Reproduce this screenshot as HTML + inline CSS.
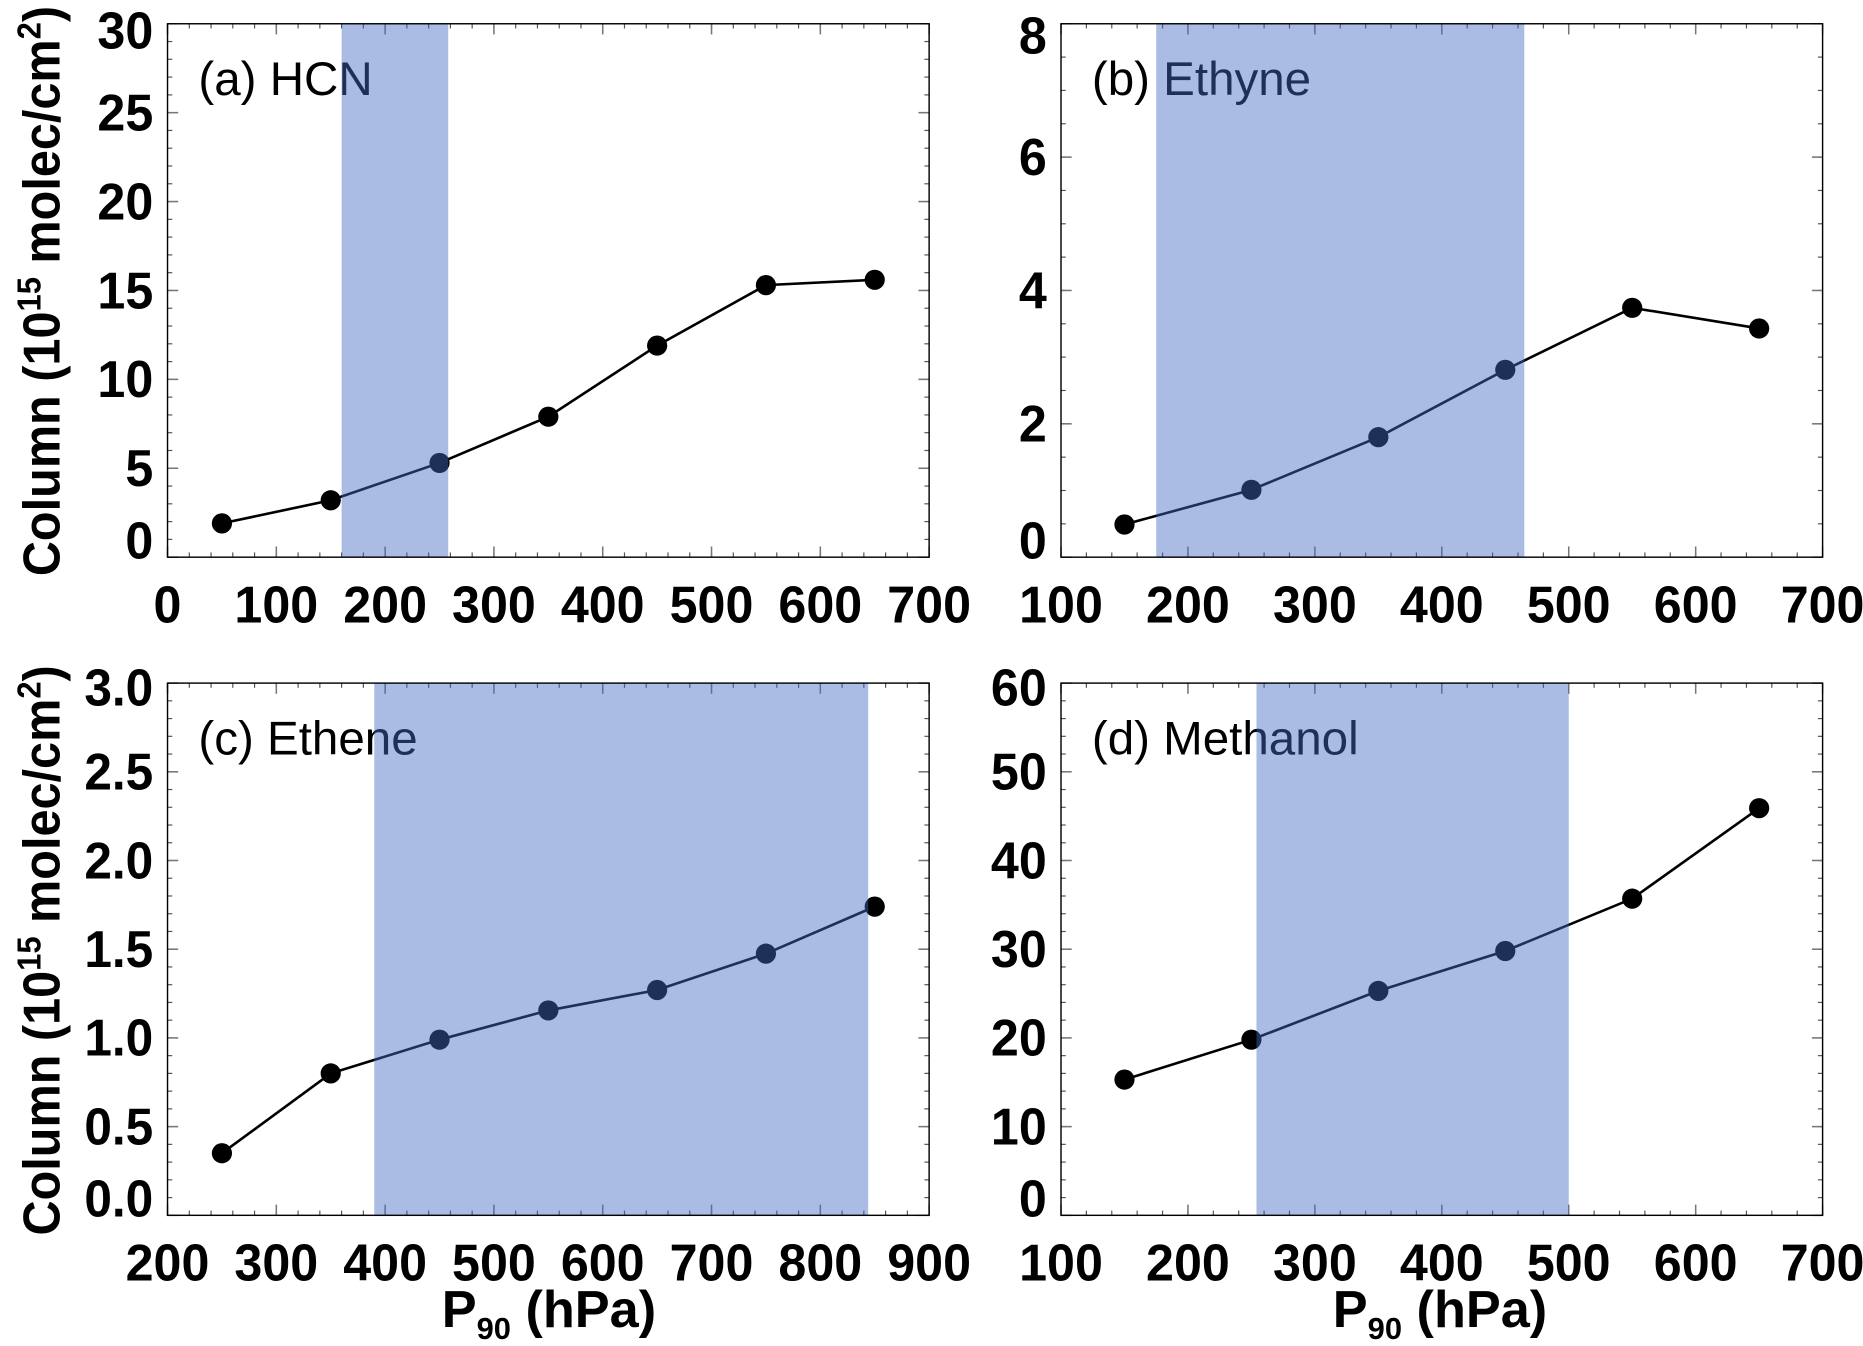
<!DOCTYPE html>
<html><head><meta charset="utf-8"><style>
html,body{margin:0;padding:0;background:#fff;}
svg{display:block;}
text{font-family:"Liberation Sans",sans-serif;}
.num{font-weight:bold;font-size:44px;fill:#000;}
.lab{font-family:"Liberation Sans",sans-serif;font-size:40px;}
</style></head><body>
<svg id="fig" width="1863" height="1346" viewBox="0 0 1568 1133" preserveAspectRatio="none" xmlns="http://www.w3.org/2000/svg">
<text transform="translate(50,245) rotate(-90)" text-anchor="middle" font-weight="bold" font-size="44" textLength="480" lengthAdjust="spacingAndGlyphs">Column (10<tspan font-size="28" dy="-16">15</tspan><tspan dy="16"> molec/cm</tspan><tspan font-size="28" dy="-16">2</tspan><tspan dy="16">)</tspan></text>
<text transform="translate(50,800) rotate(-90)" text-anchor="middle" font-weight="bold" font-size="44" textLength="480" lengthAdjust="spacingAndGlyphs">Column (10<tspan font-size="28" dy="-16">15</tspan><tspan dy="16"> molec/cm</tspan><tspan font-size="28" dy="-16">2</tspan><tspan dy="16">)</tspan></text>
<text x="462" y="1117" text-anchor="middle" font-weight="bold" font-size="44">P<tspan font-size="26" dy="10">90</tspan><tspan dy="-10"> (hPa)</tspan></text>
<text x="1212" y="1117" text-anchor="middle" font-weight="bold" font-size="44">P<tspan font-size="26" dy="10">90</tspan><tspan dy="-10"> (hPa)</tspan></text>
</svg>
<script>
// Panel (a) HCN
const aX = [50,150,250,350,450,550,650];
const aY = [1.9,3.2,5.3,7.9,11.9,15.3,15.6];
const aBand = [160,258];
const aXTicks = [0,100,200,300,400,500,600,700];
const aYTicks = [0,5,10,15,20,25,30];
// Panel (b) Ethyne
const bX = [150,250,350,450,550,650];
const bY = [0.49,1.01,1.80,2.81,3.74,3.43];
const bBand = [175,465];
const bXTicks = [100,200,300,400,500,600,700];
const bYTicks = [0,2,4,6,8];
// Panel (c) Ethene
const cX = [250,350,450,550,650,750,850];
const cY = [0.35,0.80,0.99,1.155,1.27,1.475,1.74];
const cBand = [390,844];
const cXTicks = [200,300,400,500,600,700,800,900];
const cYTicks = [0.0,0.5,1.0,1.5,2.0,2.5,3.0];
// Panel (d) Methanol
const dX = [150,250,350,450,550,650];
const dY = [15.3,19.8,25.3,29.8,35.7,45.9];
const dBand = [254,500];
const dXTicks = [100,200,300,400,500,600,700];
const dYTicks = [0,10,20,30,40,50,60];

const NS='http://www.w3.org/2000/svg';
const svg=document.getElementById('fig');
function mk(tag,attrs,parent){const e=document.createElementNS(NS,tag);for(const k in attrs)e.setAttribute(k,attrs[k]);(parent||svg).appendChild(e);return e;}

function panel(cfg){
  const {id,L,R,T,B,xmin,xmax,ymin,ymax,xs,ys,band,xt,yt,xminor,yminor,dec,label1,label2,yLabShift}=cfg;
  const g=mk('g',{});
  
  
  const sx=v=>L+(v-xmin)/(xmax-xmin)*(R-L);
  const sy=v=>B-(v-ymin)/(ymax-ymin)*(B-T);
  mk('rect',{x:L,y:T,width:R-L,height:B-T,fill:'#fff'},g);
  // minor ticks
  for(let v=xmin;v<=xmax+1e-9;v+=xminor){const x=sx(v);
    const t1=mk('line',{x1:x,x2:x,y1:B,y2:B-4,stroke:'#555','stroke-width':1},g);
    const t2=mk('line',{x1:x,x2:x,y1:T,y2:T+4,stroke:'#555','stroke-width':1},g);}
  for(let v=ymin;v<=ymax+1e-9;v+=yminor){const y=sy(v);
    mk('line',{x1:L,x2:L+4,y1:y,y2:y,stroke:'#555','stroke-width':1},g);
    mk('line',{x1:R,x2:R-4,y1:y,y2:y,stroke:'#555','stroke-width':1},g);}
  xt.forEach(v=>{const x=sx(v);
    mk('line',{x1:x,x2:x,y1:B,y2:B-9,stroke:'#777','stroke-width':1.3},g);
    mk('line',{x1:x,x2:x,y1:T,y2:T+9,stroke:'#777','stroke-width':1.3},g);
    const s=String(v);
    const t=mk('text',{x:x,y:B+55,'text-anchor':'middle','class':'num',textLength:s.length*23.5,lengthAdjust:'spacingAndGlyphs'},g);
    
    
    t.textContent=s;});
  yt.forEach((v,i)=>{const y=sy(v);
    mk('line',{x1:L,x2:L+9,y1:y,y2:y,stroke:'#777','stroke-width':1.3},g);
    mk('line',{x1:R,x2:R-9,y1:y,y2:y,stroke:'#777','stroke-width':1.3},g);
    const s=v.toFixed(dec);
    let yy=y+15;
    if(i===0) yy+=yLabShift[0];
    if(i===yt.length-1) yy+=yLabShift[1];
    const w=s.replace('.','').length*23.5+(s.includes('.')?11:0);
    const t=mk('text',{x:L-12,y:yy,'text-anchor':'end','class':'num',textLength:w,lengthAdjust:'spacingAndGlyphs'},g);
    
    
    t.textContent=s;});
  // title
  const lt=mk('text',{x:L+26,y:T+60,'class':'lab',fill:'#000'},g);
  
  
  lt.textContent=label1+' '+label2;
  // series
  const pts=xs.map((v,i)=>sx(v)+','+sy(ys[i])).join(' ');
  const line=mk('polyline',{points:pts,fill:'none',stroke:'#000','stroke-width':2.2},g);
  
  
  xs.forEach((v,i)=>{
    const c=mk('ellipse',{cx:sx(v),cy:sy(ys[i]),rx:8.5,ry:8.5,fill:'#000'},g);
    
    
  });
  // band overlay
  const bd=mk('rect',{x:sx(band[0]),y:T,width:sx(band[1])-sx(band[0]),height:B-T,fill:'rgb(68,107,195)','fill-opacity':0.45},g);
  
  
  mk('rect',{x:L,y:T,width:R-L,height:B-T,fill:'none',stroke:'#000','stroke-width':1.2},g);
}
panel({id:'a-hcn',L:141,R:782,T:20,B:469,xmin:0,xmax:700,ymin:0,ymax:30,xs:aX,ys:aY,band:aBand,xt:aXTicks,yt:aYTicks,xminor:20,yminor:1,dec:0,label1:'(a)',label2:'HCN',yLabShift:[-14,6]});
panel({id:'b-ethyne',L:893,R:1534,T:20,B:469,xmin:100,xmax:700,ymin:0,ymax:8,xs:bX,ys:bY,band:bBand,xt:bXTicks,yt:bYTicks,xminor:20,yminor:0.5,dec:0,label1:'(b)',label2:'Ethyne',yLabShift:[-14,10]});
panel({id:'c-ethene',L:141,R:782,T:575,B:1023,xmin:200,xmax:900,ymin:0,ymax:3,xs:cX,ys:cY,band:cBand,xt:cXTicks,yt:cYTicks,xminor:20,yminor:0.1,dec:1,label1:'(c)',label2:'Ethene',yLabShift:[-14,4]});
panel({id:'d-methanol',L:893,R:1534,T:575,B:1023,xmin:100,xmax:700,ymin:0,ymax:60,xs:dX,ys:dY,band:dBand,xt:dXTicks,yt:dYTicks,xminor:20,yminor:2,dec:0,label1:'(d)',label2:'Methanol',yLabShift:[-14,4]});
</script>
</body></html>
